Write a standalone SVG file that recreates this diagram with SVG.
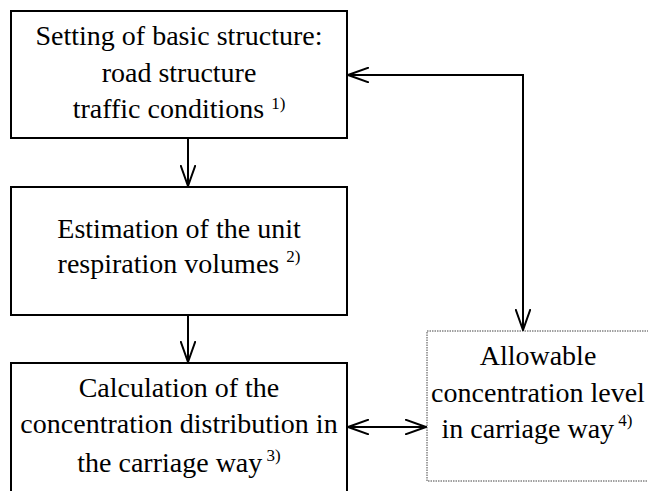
<svg xmlns="http://www.w3.org/2000/svg" width="648" height="491" viewBox="0 0 648 491">
<defs>
<style>
.box{fill:#fff;stroke:#000;stroke-width:2}
.dbox{fill:#fff;stroke:#444;stroke-width:1;stroke-dasharray:1.5 1}
.c{fill:none;stroke:#000;stroke-width:2}
</style>
<marker id="ah" viewBox="0 0 22 16" refX="21" refY="8" markerWidth="22" markerHeight="16" markerUnits="userSpaceOnUse" orient="auto-start-reverse">
<path d="M0,0.5 L21,8 L0,15.5" fill="none" stroke="#000" stroke-width="2"/>
</marker>
</defs>
<g font-family="Liberation Serif, Times New Roman, serif" font-size="28" text-anchor="middle" fill="#000">
<g id="n1">
<rect class="box" x="11" y="11" width="336" height="127"/>
<text x="179" y="45">Setting of basic structure:</text>
<text x="179" y="82">road structure</text>
<text x="179" y="118">traffic conditions <tspan font-size="17" dy="-9">1)</tspan></text>
</g>
<g id="n2">
<rect class="box" x="11" y="187" width="336" height="128"/>
<text x="179" y="238">Estimation of the unit</text>
<text x="179" y="273">respiration volumes <tspan font-size="17" dy="-11">2)</tspan></text>
</g>
<g id="n3">
<rect class="box" x="11" y="363" width="336" height="140"/>
<text x="179" y="397">Calculation of the</text>
<text x="179" y="433">concentration distribution in</text>
<text x="179" y="472">the carriage way<tspan font-size="17" dy="-11"> 3)</tspan></text>
</g>
<g id="n4">
<rect class="dbox" x="427" y="331" width="230" height="150"/>
<text x="538" y="365">Allowable</text>
<text x="538" y="402">concentration level</text>
<text x="537" y="438">in carriage way<tspan font-size="17" dy="-12"> 4)</tspan></text>
</g>
</g>
<g id="connectors">
<line class="c" x1="188" y1="139" x2="188" y2="186" marker-end="url(#ah)"/>
<line class="c" x1="188" y1="315" x2="188" y2="362" marker-end="url(#ah)"/>
<polyline class="c" points="348,75 523,75 523,330" marker-start="url(#ah)" marker-end="url(#ah)"/>
<line class="c" x1="348" y1="427" x2="426" y2="427" marker-start="url(#ah)" marker-end="url(#ah)"/>
</g>
</svg>
